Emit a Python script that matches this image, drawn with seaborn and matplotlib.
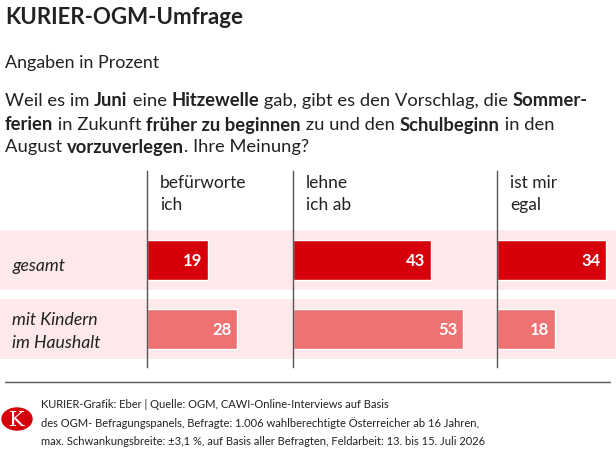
import matplotlib
matplotlib.use("Agg")
import matplotlib.pyplot as plt
import seaborn as sns
import pandas as pd
from matplotlib.patches import Circle

# data
groups = ["gesamt", "mit Kindern\nim Haushalt"]
answers = ["befürworte\nich", "lehne\nich ab", "ist mir\negal"]
befuerworte = [19, 28]
lehne_ab = [43, 53]
egal = [34, 18]
values = [befuerworte, lehne_ab, egal]

sns.set_theme(style="white")
plt.rcParams["font.family"] = ["Lato", "DejaVu Sans"]

W, H = 616, 452
fig = plt.figure(figsize=(W / 100, H / 100), dpi=100)

DARK = "#d50009"
LIGHT = "#ee7272"
BAND = "#fde9eb"
GREY = "#555555"
TXT = "#222222"


def fx(px):
    return px / W


def fy(py):
    return 1 - py / H


# chart area (pixels)
top, bottom = 172, 368
ylim = (1.55, -1.29)
col_edges = [147, 293, 497, 616]
px_per_unit = 3.2

# background bands over full width
bg = fig.add_axes([0, fy(bottom), 1, (bottom - top) / H])
bg.set_ylim(*ylim)
bg.set_xlim(0, 1)
for i in range(len(groups)):
    bg.axhspan(i - 0.44, i + 0.44, color=BAND, lw=0)
bg.axis("off")

for c, (ans, vals) in enumerate(zip(answers, values)):
    x0, x1 = col_edges[c], col_edges[c + 1]
    ax = fig.add_axes([fx(x0), fy(bottom), (x1 - x0) / W, (bottom - top) / H])
    ax.patch.set_alpha(0)
    df = pd.DataFrame({"group": groups, "value": vals})
    sns.barplot(data=df, x="value", y="group", hue="group", palette=[DARK, LIGHT],
                orient="h", width=0.58, legend=False, ax=ax, saturation=1)
    ax.set_xlim(0, (x1 - x0) / px_per_unit)
    ax.set_ylim(*ylim)
    for spine in ["top", "right", "bottom"]:
        ax.spines[spine].set_visible(False)
    ax.spines["left"].set_color(GREY)
    ax.spines["left"].set_linewidth(1)
    ax.set_xticks([])
    ax.set_yticks([])
    ax.set_xlabel("")
    ax.set_ylabel("")
    for i, v in enumerate(vals):
        ax.text(v - 1.6, i, str(v), color="white", fontsize=12, fontweight="bold",
                ha="right", va="center")
    l1, l2 = ans.split("\n")
    fig.text(fx(x0 + 13), fy(183), l1, fontsize=12.5, color=TXT, va="center")
    fig.text(fx(x0 + 13), fy(205), l2, fontsize=12.5, color=TXT, va="center")

# row labels
fig.text(fx(12), fy(266), "gesamt", fontsize=12.7, style="italic", color=TXT, va="center")
fig.text(fx(12), fy(320), "mit Kindern", fontsize=12.7, style="italic", color=TXT, va="center")
fig.text(fx(12), fy(343), "im Haushalt", fontsize=12.7, style="italic", color=TXT, va="center")

# header
fig.text(fx(5), fy(18), "KURIER-OGM-Umfrage", fontsize=16, fontweight="bold", color=TXT, va="center")
fig.text(fx(5), fy(63), "Angaben in Prozent", fontsize=12.9, color=TXT, va="center")

question = [
    [("Weil es im ", False), ("Juni", True), (" eine ", False), ("Hitzewelle", True),
     (" gab, gibt es den Vorschlag, die ", False), ("Sommer-", True)],
    [("ferien", True), (" in Zukunft ", False), ("früher zu beginnen", True),
     (" zu und den ", False), ("Schulbeginn", True), (" in den", False)],
    [("August ", False), ("vorzuverlegen", True), (". Ihre Meinung?", False)],
]
renderer = fig.canvas.get_renderer()
for row, line_y in zip(question, [101, 125, 147]):
    x = 5
    for txt, bold in row:
        t = fig.text(fx(x), fy(line_y), txt, fontsize=13.2, color=TXT, va="center",
                     fontweight="bold" if bold else "normal")
        bb = t.get_window_extent(renderer)
        x += bb.width

# footer
fig.add_artist(plt.Line2D([fx(5), fx(610)], [fy(383), fy(383)], color=GREY, lw=1))
fig.add_artist(Circle((fx(17), fy(420)), 15 / W, transform=fig.transFigure, color=DARK))
fig.text(fx(17), fy(421), "K", fontsize=15, color="white", family="DejaVu Serif",
         ha="center", va="center")
foot = ["KURIER-Grafik: Eber | Quelle: OGM, CAWI-Online-Interviews auf Basis",
        "des OGM- Befragungspanels, Befragte: 1.006 wahlberechtigte Österreicher ab 16 Jahren,",
        "max. Schwankungsbreite: ±3,1 %, auf Basis aller Befragten, Feldarbeit: 13. bis 15. Juli 2026"]
for txt, yy in zip(foot, [405, 423, 442]):
    fig.text(fx(41), fy(yy), txt, fontsize=8.0, color=TXT, va="center")

fig.savefig("out.png", dpi=100)
